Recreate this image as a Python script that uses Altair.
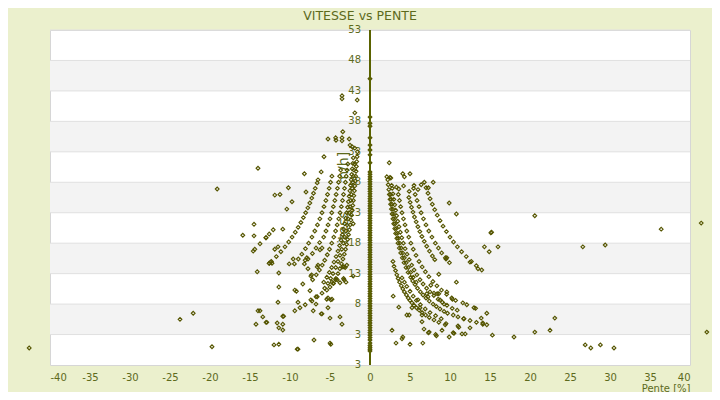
import altair as alt
import pandas as pd

# ---------------- data (pente %, vitesse km/h) ----------------
col_zero_speeds = [0.3, 0.6, 0.9, 1.2, 1.6, 2.1, 2.5, 2.9, 3.3, 3.7, 4.1, 4.5, 4.9, 5.3, 5.7,
                   6.1, 6.5, 6.9, 7.3, 7.7, 8.1, 8.5, 8.9, 9.3, 9.7, 10.1, 10.5, 10.9, 11.3,
                   11.7, 12.1, 12.5, 12.9, 13.3, 13.7, 14.1, 14.5, 14.9, 15.3, 15.7, 16.1,
                   16.5, 16.9, 17.3, 17.7, 18.1, 18.5, 18.9, 19.3, 19.7, 20.1, 20.5, 20.9,
                   21.3, 21.7, 22.1, 22.5, 22.9, 23.3, 23.7, 24.1, 24.5, 24.9, 25.3, 25.7,
                   26.1, 26.5, 26.9, 27.3, 27.7, 28.1, 28.5, 28.9, 29.3, 29.7, 31.2, 32.5,
                   33.3, 34.1, 35.3, 37.2, 37.7, 38.7, 45.0]

right_c1 = [(2.22, 28.4), (2.28, 27.6), (2.35, 26.8), (2.42, 26.0), (2.50, 25.2), (2.58, 24.4),
            (2.67, 23.6), (2.76, 22.8), (2.86, 22.0), (2.97, 21.2), (3.09, 20.4), (3.21, 19.6),
            (3.35, 18.8), (3.50, 18.0), (3.66, 17.2), (3.84, 16.4), (4.04, 15.6), (4.26, 14.8),
            (4.50, 14.0), (4.77, 13.2), (5.08, 12.4), (5.34, 11.8), (5.63, 11.2), (5.94, 10.6),
            (6.30, 10.0), (6.63, 9.5), (7.00, 9.0), (7.41, 8.5), (7.88, 8.0), (8.29, 7.6),
            (8.75, 7.2), (9.26, 6.8), (9.69, 6.5), (10.4, 6.2), (11.0, 5.9), (11.7, 5.6),
            (12.5, 5.3), (13.3, 5.0), (14.1, 4.7)]
right_c2 = [(2.58, 26.0), (2.66, 25.2), (2.75, 24.4), (2.84, 23.6), (2.94, 22.8), (3.05, 22.0),
            (3.16, 21.2), (3.28, 20.4), (3.42, 19.6), (3.56, 18.8), (3.72, 18.0), (3.90, 17.2),
            (4.09, 16.4), (4.29, 15.6), (4.53, 14.8), (4.79, 14.0), (5.08, 13.2), (5.40, 12.4),
            (5.78, 11.6)]
right_c3 = [(2.78, 27.0), (2.87, 26.1), (2.98, 25.2), (3.09, 24.3), (3.21, 23.4), (3.33, 22.5),
            (3.47, 21.6), (3.62, 20.7), (3.79, 19.8), (3.97, 18.9), (4.17, 18.0), (4.39, 17.1),
            (4.63, 16.2), (4.90, 15.3), (5.21, 14.4), (5.51, 13.6), (5.86, 12.8), (6.25, 12.0),
            (6.64, 11.3), (7.08, 10.6), (7.50, 10.0), (7.98, 9.4), (8.52, 8.8), (9.04, 8.3),
            (9.62, 7.8), (10.27, 7.3)]
right_c4 = [(3.54, 26.0), (3.68, 25.0), (3.83, 24.0), (4.00, 23.0), (4.18, 22.0), (4.38, 21.0),
            (4.60, 20.0), (4.84, 19.0), (5.11, 18.0), (5.41, 17.0), (5.75, 16.0), (6.13, 15.0),
            (6.52, 14.1), (6.92, 13.3), (7.36, 12.5), (7.86, 11.7), (8.36, 11.0), (8.93, 10.3),
            (9.58, 9.6), (10.22, 9.0), (10.70, 8.6)]
right_c5 = [(4.86, 25.5), (5.02, 24.7), (5.19, 23.9), (5.37, 23.1), (5.56, 22.3), (5.77, 21.5),
            (5.99, 20.7), (6.23, 19.9), (6.49, 19.1), (6.78, 18.3), (7.09, 17.5), (7.43, 16.7),
            (7.80, 15.9), (8.10, 15.3)]
right_c6 = [(5.44, 27.0), (5.65, 26.0), (5.88, 25.0), (6.13, 24.0), (6.39, 23.0), (6.68, 22.0),
            (7.00, 21.0), (7.35, 20.0), (7.74, 19.0), (8.17, 18.0), (8.55, 17.2), (8.96, 16.4),
            (9.42, 15.6), (9.93, 14.8)]
right_c7 = [(6.79, 28.0), (7.01, 27.1), (7.25, 26.2), (7.51, 25.3), (7.79, 24.4), (8.09, 23.5),
            (8.41, 22.6), (8.76, 21.7), (9.13, 20.8), (9.55, 19.9), (10.0, 19.0), (10.44, 18.2),
            (10.92, 17.4), (11.45, 16.6), (12.03, 15.8), (12.67, 15.0), (13.29, 14.3),
            (13.97, 13.6)]
right_low1 = [(2.87, 15.0), (3.00, 14.2), (3.19, 13.5), (3.35, 12.8), (3.52, 12.2), (3.70, 11.6),
              (3.91, 11.0), (4.10, 10.5), (4.30, 10.0), (4.55, 9.5), (4.78, 9.0), (5.00, 8.6),
              (5.24, 8.2), (5.50, 7.8), (5.81, 7.4), (6.15, 7.0), (6.52, 6.6), (6.95, 6.2),
              (7.41, 5.8), (8.00, 5.4), (8.60, 5.0)]
right_low2 = [(4.0, 12.3), (4.3, 11.6), (4.6, 10.9), (5.0, 10.1), (5.4, 9.3), (5.8, 8.6),
              (6.3, 7.9), (6.9, 7.2), (7.5, 6.6), (8.2, 6.1), (8.9, 5.6)]
right_scatter = [(2.4, 31.2), (2.1, 28.9), (2.6, 28.7), (2.5, 28.8), (4.1, 29.4), (4.3, 28.9),
                 (5.0, 29.4), (7.9, 28.0), (2.7, 27.5), (3.3, 27.2), (3.6, 26.9), (4.2, 27.4),
                 (4.9, 26.5), (5.5, 27.5), (6.0, 26.8), (6.4, 27.6), (7.3, 27.1),
                 (9.9, 24.6), (10.8, 22.8), (20.6, 22.5), (15.1, 19.7), (15.2, 19.8), (14.3, 17.4),
                 (14.9, 16.6), (16.0, 17.4), (9.6, 15.6), (12.5, 14.9), (13.5, 13.8), (8.6, 12.9),
                 (10.8, 11.6), (26.6, 17.4), (29.4, 17.7), (36.4, 20.3), (41.4, 21.3), (42.1, 3.4),
                 (23.1, 5.7), (22.5, 3.7), (20.6, 3.4), (18.0, 2.6), (15.3, 2.9), (26.9, 1.3),
                 (27.6, 0.8), (28.8, 1.3), (30.5, 0.8), (14.6, 4.6), (14.6, 6.5), (13.9, 5.7),
                 (14.1, 4.9), (13.0, 7.4), (13.2, 7.3), (11.6, 8.2), (12.1, 7.9), (11.75, 5.6),
                 (12.5, 4.1), (11.5, 3.1), (11.9, 3.1), (10.4, 3.3), (10.5, 3.2), (9.9, 2.6),
                 (8.3, 2.8), (8.2, 3.0), (7.3, 3.3), (6.6, 1.6), (5.0, 1.4), (4.1, 2.6), (4.0, 2.3),
                 (3.25, 1.6), (2.75, 3.7), (2.9, 9.3), (3.6, 7.5), (4.6, 6.2), (4.9, 6.2),
                 (5.25, 7.4), (6.5, 6.2), (6.5, 5.1), (6.75, 3.9), (7.4, 3.4), (9.0, 3.7),
                 (9.4, 4.6), (9.5, 4.8), (11.0, 4.4), (11.1, 4.2), (8.75, 8.7), (9.25, 8.0),
                 (8.4, 9.7), (8.6, 9.7), (9.6, 10.0), (10.3, 8.8), (10.9, 7.0), (7.6, 11.1),
                 (8.0, 9.8), (7.1, 9.7), (7.25, 9.2), (6.0, 8.7), (6.25, 7.4), (9.5, 15.4)]

left_c1 = [(-1.58, 33.0), (-1.61, 32.2), (-1.66, 31.4), (-1.70, 30.6), (-1.74, 29.8), (-1.79, 29.0),
           (-1.84, 28.2), (-1.90, 27.4), (-1.95, 26.6), (-2.02, 25.8), (-2.08, 25.0), (-2.15, 24.2),
           (-2.22, 23.4), (-2.30, 22.6), (-2.39, 21.8), (-2.48, 21.0), (-2.57, 20.2), (-2.68, 19.4),
           (-2.80, 18.6), (-2.92, 17.8), (-3.06, 17.0), (-3.21, 16.2), (-3.38, 15.4), (-3.56, 14.6),
           (-3.77, 13.8), (-4.00, 13.0), (-4.26, 12.2), (-4.56, 11.4)]
left_c2 = [(-1.94, 31.0), (-2.00, 30.0), (-2.07, 29.0), (-2.14, 28.0), (-2.22, 27.0), (-2.31, 26.0),
           (-2.40, 25.0), (-2.50, 24.0), (-2.61, 23.0), (-2.73, 22.0), (-2.86, 21.0), (-3.00, 20.0),
           (-3.16, 19.0), (-3.33, 18.0), (-3.53, 17.0), (-3.75, 16.0), (-4.00, 15.0), (-4.29, 14.0),
           (-4.62, 13.0), (-4.92, 12.2), (-5.26, 11.4), (-5.66, 10.6)]
left_c3 = [(-2.09, 32.0), (-2.15, 31.1), (-2.22, 30.2), (-2.29, 29.3), (-2.36, 28.4), (-2.44, 27.5),
           (-2.52, 26.6), (-2.61, 25.7), (-2.70, 24.8), (-2.80, 23.9), (-2.91, 23.0), (-3.03, 22.1),
           (-3.16, 21.2), (-3.30, 20.3), (-3.45, 19.4), (-3.62, 18.5), (-3.81, 17.6), (-4.01, 16.7),
           (-4.24, 15.8), (-4.50, 14.9), (-4.79, 14.0), (-5.08, 13.2), (-5.40, 12.4), (-5.78, 11.6)]
left_c4 = [(-2.77, 31.0), (-2.87, 30.0), (-2.97, 29.0), (-3.07, 28.0), (-3.19, 27.0), (-3.31, 26.0),
           (-3.44, 25.0), (-3.58, 24.0), (-3.74, 23.0), (-3.91, 22.0), (-4.10, 21.0), (-4.30, 20.0),
           (-4.53, 19.0), (-4.78, 18.0), (-5.06, 17.0), (-5.34, 16.1), (-5.66, 15.2), (-5.97, 14.4),
           (-6.32, 13.6), (-6.72, 12.8), (-7.17, 12.0)]
left_c5 = [(-3.67, 30.0), (-3.79, 29.0), (-3.93, 28.0), (-4.07, 27.0), (-4.23, 26.0), (-4.40, 25.0),
           (-4.58, 24.0), (-4.78, 23.0), (-5.00, 22.0), (-5.24, 21.0), (-5.50, 20.0), (-5.79, 19.0),
           (-6.30, 18.1), (-6.75, 17.2), (-7.20, 16.3), (-7.75, 15.4), (-8.20, 14.6)]
left_c6 = [(-4.76, 29.0), (-4.93, 28.0), (-5.11, 27.0), (-5.31, 26.0), (-5.52, 25.0), (-5.75, 24.0),
           (-6.00, 23.0), (-6.27, 22.0), (-6.57, 21.0), (-6.90, 20.0), (-7.26, 19.0), (-7.67, 18.0),
           (-8.07, 17.1), (-8.52, 16.2), (-8.96, 15.4), (-9.45, 14.6)]
left_c7 = [(-6.85, 27.0), (-7.06, 26.2), (-7.28, 25.4), (-7.52, 24.6), (-7.77, 23.8), (-8.04, 23.0),
           (-8.33, 22.2), (-8.64, 21.4), (-8.98, 20.6), (-9.34, 19.8), (-9.74, 19.0), (-10.16, 18.2),
           (-10.63, 17.4), (-11.14, 16.6), (-11.71, 15.8), (-12.33, 15.0), (-12.60, 14.7)]
left_c8 = [(-14.6, 16.7), (-14.4, 17.0), (-13.75, 17.9), (-13.0, 18.9), (-12.6, 19.5), (-12.1, 20.2),
           (-15.9, 19.3), (-14.5, 21.1), (-14.5, 19.2), (-14.1, 13.3), (-10.9, 20.3)]
left_low = [(-9.4, 6.9), (-8.75, 7.4), (-8.1, 7.9), (-7.25, 8.5), (-6.6, 9.2), (-6.0, 9.8),
            (-5.4, 10.3), (-5.0, 10.8), (-4.6, 11.4), (-4.3, 12.0)]
left_scatter = [(-42.6, 0.8), (-23.75, 5.5), (-22.1, 6.5), (-19.75, 1.0), (-19.1, 26.9), (-14.0, 30.3),
                (-8.2, 29.4), (-10.2, 27.1), (-11.9, 25.9), (-11.25, 26.0), (-8.0, 26.4), (-6.1, 29.7),
                (-5.75, 32.2), (-5.25, 35.1), (-4.25, 34.9), (-4.3, 35.3), (-3.5, 35.3), (-3.5, 34.8),
                (-3.4, 36.3), (-2.6, 35.1), (-2.5, 34.1), (-2.2, 33.8), (-1.9, 33.6), (-3.5, 42.2),
                (-3.5, 41.7), (-1.6, 41.5), (-1.9, 39.4), (-6.5, 28.4), (-6.6, 27.9), (-10.4, 23.6),
                (-9.75, 24.8), (-11.4, 13.1), (-11.4, 10.8), (-11.5, 8.3), (-10.1, 14.6), (-9.6, 15.4),
                (-9.4, 10.3), (-9.2, 10.1), (-9.0, 8.3), (-8.4, 11.3), (-7.75, 13.8), (-7.4, 12.6),
                (-7.3, 12.8), (-7.5, 10.2), (-7.4, 8.7), (-7.1, 6.9), (-6.75, 8.0), (-6.75, 9.2),
                (-7.0, 2.1), (-6.0, 6.4), (-5.25, 7.4), (-5.25, 9.0), (-4.75, 8.8), (-5.0, 1.6),
                (-4.9, 1.4), (-5.0, 5.7), (-3.75, 5.9), (-3.5, 4.7), (-3.25, 14.1), (-2.9, 14.4),
                (-3.25, 12.0), (-3.3, 12.2), (-2.1, 21.2), (-2.1, 12.6), (-14.0, 6.9), (-13.75, 6.9),
                (-14.25, 4.7), (-13.4, 5.9), (-13.0, 5.0), (-12.9, 5.0), (-12.6, 14.7), (-12.25, 14.7),
                (-11.9, 17.0), (-11.5, 17.4), (-11.6, 4.9), (-11.4, 4.1), (-10.9, 3.75), (-10.9, 6.0),
                (-10.8, 6.0), (-10.9, 4.7), (-12.0, 1.3), (-11.4, 1.4), (-9.1, 0.6), (-9.0, 0.6),
                (-8.1, 15.2), (-7.9, 15.6), (-6.6, 14.1), (-6.5, 14.4), (-6.25, 16.9), (-6.0, 17.2),
                (-6.1, 6.4), (-5.4, 8.8), (-4.9, 8.7), (-4.1, 12.0), (-3.75, 11.5), (-4.75, 11.6),
                (-3.4, 14.1), (-3.1, 14.0), (-3.0, 11.6), (-13.0, 18.9), (-12.4, 14.9)]

x_ticks = [-40, -35, -30, -25, -20, -15, -10, -5, 0, 5, 10, 15, 20, 25, 30, 35, 40]
y_ticks = [-2, 3, 8, 13, 18, 23, 28, 33, 38, 43, 48, 53]
y_tick_labels = ["3", "3", "8", "13", "18", "23", "28", "33", "38", "43", "48", "53"]
band_tops = [48, 38, 28, 18, 8]
band_bottoms = [43, 33, 23, 13, 3]

# ---------------- build tables ----------------
pairs = [(0.0, v) for v in col_zero_speeds]
for grp in (right_c1, right_c2, right_c3, right_c4, right_c5, right_c6, right_c7,
            right_low1, right_low2, right_scatter, left_c1, left_c2, left_c3, left_c4,
            left_c5, left_c6, left_c7, left_c8, left_low, left_scatter):
    pairs.extend(grp)
df = pd.DataFrame(pairs, columns=["pente", "vitesse"])
bands_df = pd.DataFrame({"vitesse": band_tops, "bottom": band_bottoms})
grid_df = pd.DataFrame({"vitesse": y_ticks[1:]})
ylab_df = pd.DataFrame({"vitesse": y_ticks, "label": y_tick_labels})

olive_text = "#5d6a1c"
point_color = "#555500"
axis_color = "#5a6300"
font = "DejaVu Sans"

x_scale = alt.Scale(domain=[-40, 40], nice=False, zero=False)
y_scale = alt.Scale(domain=[-2, 53], nice=False, zero=False)

y_axis = alt.Axis(
    orient="left", offset=-320, values=y_ticks, labels=False, grid=False,
    ticks=False, tickSize=0, domain=False,
    title="Vitesse [km/h]", titleFontSize=14,
    titleFontWeight="normal", titleColor=olive_text, titleFont=font,
    titleX=-20, titleY=172, zindex=0)
x_axis = alt.Axis(
    values=x_ticks, labelExpr="'' + datum.value", grid=False, ticks=False, tickSize=0,
    domain=False, labelFontSize=10, labelColor=olive_text, labelFont=font, labelPadding=7,
    title="Pente [%]", titleAnchor="end", titleFontSize=10, titleFontWeight="normal",
    titleColor=olive_text, titleFont=font, titlePadding=1)

bands = alt.Chart(bands_df).mark_rect(color="#f3f3f3").encode(
    y=alt.Y("vitesse:Q", scale=y_scale, axis=y_axis),
    y2="bottom:Q",
)
grid = alt.Chart(grid_df).mark_rule(color="#e0e0e0", strokeWidth=1).encode(
    y=alt.Y("vitesse:Q", scale=y_scale, axis=y_axis),
)
ylabels = alt.Chart(ylab_df).mark_text(
    align="right", baseline="middle", dx=-9, fontSize=10, font=font, color=olive_text
).encode(
    x=alt.XDatum(0, scale=x_scale, axis=x_axis),
    y=alt.Y("vitesse:Q", scale=y_scale, axis=y_axis),
    text="label:N",
)
yline = alt.Chart(grid_df).mark_rule(color=axis_color, strokeWidth=1).encode(
    x=alt.XDatum(0, scale=x_scale, axis=x_axis),
)
points = alt.Chart(df).mark_point(
    shape="diamond", filled=False, size=14, strokeWidth=1.15, color=point_color, opacity=1
).encode(
    x=alt.X("pente:Q", scale=x_scale, axis=x_axis),
    y=alt.Y("vitesse:Q", scale=y_scale, axis=y_axis),
)

chart = alt.layer(bands, grid, ylabels, points, yline).properties(
    width=640, height=335,
    autosize=alt.AutoSizeParams(type="none"),
    padding={"left": 42, "top": 22, "right": 22, "bottom": 27},
    title=alt.TitleParams("VITESSE vs PENTE", fontSize=12.5, font=font, fontWeight="normal",
                          color=olive_text, anchor="middle", frame="group", dx=-10, offset=3),
).configure(background="#ebf0cd").configure_view(stroke="#d6d6d6", fill="white", strokeWidth=1)

chart.save("out.html", embed_options={"renderer": "svg", "actions": False})
